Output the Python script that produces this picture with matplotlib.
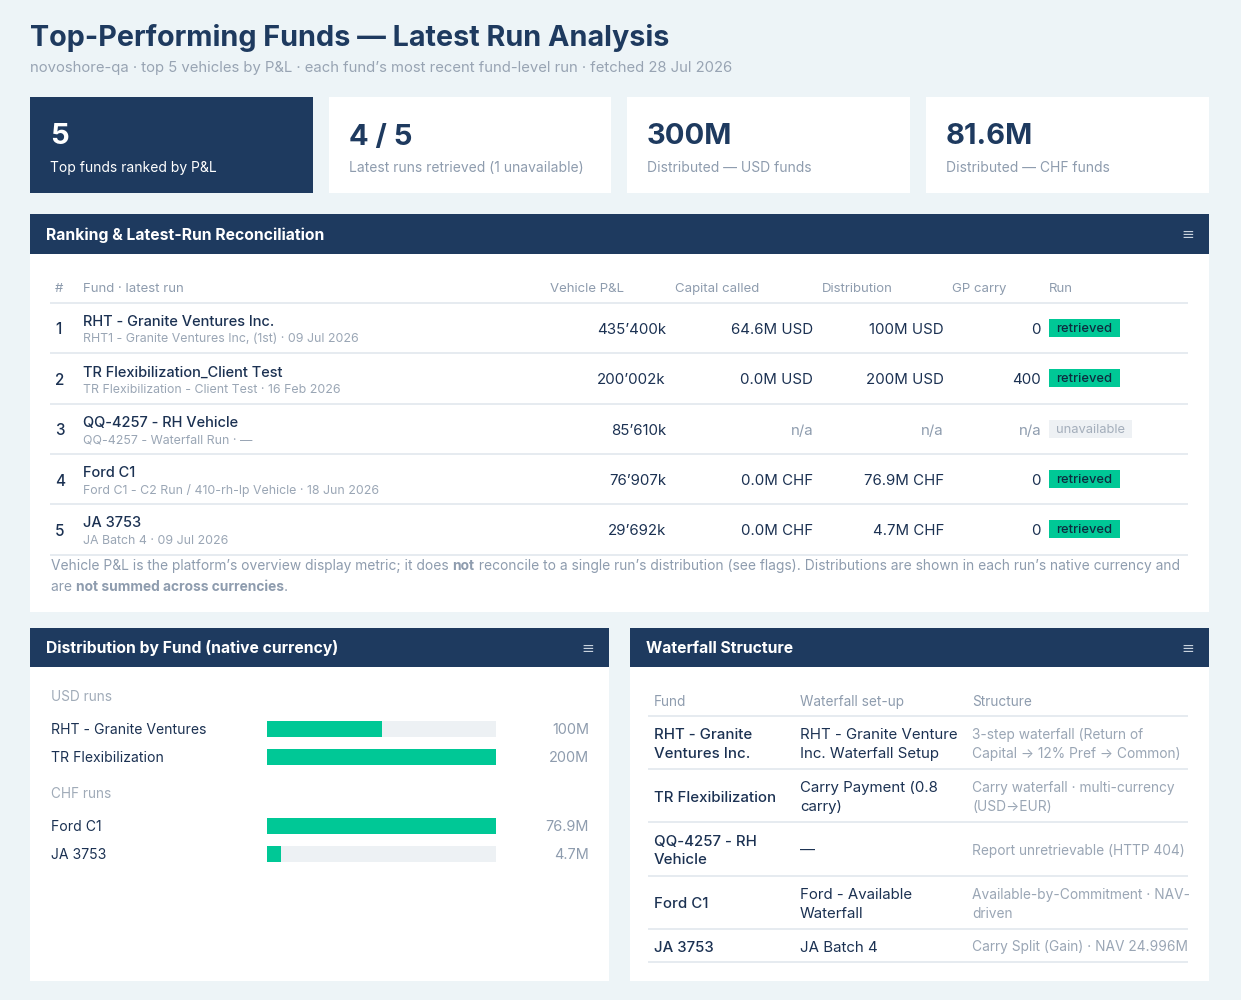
import matplotlib
matplotlib.use('Agg')
import matplotlib.pyplot as plt
from matplotlib.patches import Rectangle
from matplotlib.transforms import blended_transform_factory

plt.rcParams['font.family'] = ['Inter', 'DejaVu Sans']

# ---------------- data ----------------
title = 'Top-Performing Funds — Latest Run Analysis'
subtitle = ('novoshore-qa · top 5 vehicles by P&L · each fund’s most recent '
            'fund-level run · fetched 28 Jul 2026')

kpi_values = ['5', '4 / 5', '300M', '81.6M']
kpi_labels = ['Top funds ranked by P&L', 'Latest runs retrieved (1 unavailable)',
              'Distributed — USD funds', 'Distributed — CHF funds']

table_columns = ['#', 'Fund · latest run', 'Vehicle P&L', 'Capital called',
                 'Distribution', 'GP carry', 'Run']
ranks = ['1', '2', '3', '4', '5']
fund_names = ['RHT - Granite Ventures Inc.', 'TR Flexibilization_Client Test',
              'QQ-4257 - RH Vehicle', 'Ford C1', 'JA 3753']
run_names = ['RHT1 - Granite Ventures Inc, (1st) · 09 Jul 2026',
             'TR Flexibilization - Client Test · 16 Feb 2026',
             'QQ-4257 - Waterfall Run · —',
             'Ford C1 - C2 Run / 410-rh-lp Vehicle · 18 Jun 2026',
             'JA Batch 4 · 09 Jul 2026']
vehicle_pnl = ['435’400k', '200’002k', '85’610k', '76’907k', '29’692k']
capital_called = ['64.6M USD', '0.0M USD', 'n/a', '0.0M CHF', '0.0M CHF']
distribution = ['100M USD', '200M USD', 'n/a', '76.9M CHF', '4.7M CHF']
gp_carry = ['0', '400', 'n/a', '0', '0']
run_status = ['retrieved', 'retrieved', 'unavailable', 'retrieved', 'retrieved']

usd_funds = ['RHT - Granite Ventures', 'TR Flexibilization']
usd_values = [100, 200]
usd_labels = ['100M', '200M']
chf_funds = ['Ford C1', 'JA 3753']
chf_values = [76.9, 4.7]
chf_labels = ['76.9M', '4.7M']

wf_columns = ['Fund', 'Waterfall set-up', 'Structure']
wf_funds = ['RHT - Granite\nVentures Inc.', 'TR Flexibilization',
            'QQ-4257 - RH\nVehicle', 'Ford C1', 'JA 3753']
wf_setup = ['RHT - Granite Venture\nInc. Waterfall Setup', 'Carry Payment (0.8\ncarry)',
            '—', 'Ford - Available\nWaterfall', 'JA Batch 4']
wf_structure = ['3-step waterfall (Return of\nCapital → 12% Pref → Common)',
                'Carry waterfall · multi-currency\n(USD→EUR)',
                'Report unretrievable (HTTP 404)',
                'Available-by-Commitment · NAV-\ndriven',
                'Carry Split (Gain) · NAV 24.996M']

# ---------------- style ----------------
BG = '#EDF4F7'
NAVY = '#1E3A5F'
DARK = '#1B3152'
GREY = '#8E9CAE'
GREEN = '#00C896'
TRACK = '#EDF1F4'
LINE = '#E2E8EE'
WHITE = '#FFFFFF'
DY = 2  # vertical text offset

W, H = 1241, 1000
fig = plt.figure(figsize=(W / 100, H / 100), dpi=100)
fig.patch.set_facecolor(BG)
bg = fig.add_axes([0, 0, 1, 1])
bg.set_xlim(0, W)
bg.set_ylim(H, 0)
bg.axis('off')
renderer = fig.canvas.get_renderer()


def rect(x0, y0, x1, y1, color, z=1):
    bg.add_patch(Rectangle((x0, y0), x1 - x0, y1 - y0, facecolor=color,
                           edgecolor='none', zorder=z))


def txt(x, y, s, size, color=DARK, weight='normal', ha='left', va='center', **kw):
    return bg.text(x, y + DY, s, fontsize=size, color=color, fontweight=weight,
                   ha=ha, va=va, zorder=5, **kw)


def width_of(s, size, weight):
    t1 = bg.text(0, 0, '|' + s + '|', fontsize=size, fontweight=weight)
    t2 = bg.text(0, 0, '||', fontsize=size, fontweight=weight)
    w = t1.get_window_extent(renderer).width - t2.get_window_extent(renderer).width
    t1.remove()
    t2.remove()
    return w


def rich(x, y, parts, size, color):
    for s, weight in parts:
        txt(x, y, s, size, color, weight)
        x += width_of(s, size, weight)


def hline(x0, x1, y, color=LINE, lw=1.2):
    bg.plot([x0, x1], [y, y], color=color, lw=lw, zorder=3, solid_capstyle='butt')


def px_axes(x0, y0, x1, y1):
    return fig.add_axes([x0 / W, 1 - y1 / H, (x1 - x0) / W, (y1 - y0) / H])


# ---------------- title ----------------
txt(30, 36, title, 20.7, NAVY, 'bold')
txt(30, 66, subtitle, 10.7, '#98A4B3')

# ---------------- KPI cards ----------------
card_x = [(30, 313), (329, 611), (627, 910), (926, 1209)]
for i, ((x0, x1), v, lab) in enumerate(zip(card_x, kpi_values, kpi_labels)):
    dark = i == 0
    rect(x0, 97, x1, 193, NAVY if dark else WHITE)
    txt(x0 + 20, 135, v, 21, WHITE if dark else NAVY, 'bold')
    txt(x0 + 20, 166, lab, 10, WHITE if dark else GREY)

# ---------------- panels ----------------
def panel(x0, y0, x1, y1, head, title_text):
    rect(x0, y0, x1, y1, WHITE)
    rect(x0, y0, x1, y0 + head, NAVY, z=2)
    txt(x0 + 16, y0 + head / 2 - 1, title_text, 11.3, WHITE, 'bold')
    txt(x1 - 21, y0 + head / 2 - 1, '≡', 11, '#C9D3DE', ha='center')


panel(30, 214, 1209, 612, 40, 'Ranking & Latest-Run Reconciliation')
panel(30, 628, 609, 981, 39, 'Distribution by Fund (native currency)')
panel(630, 628, 1209, 981, 39, 'Waterfall Structure')

# ---------------- ranking table ----------------
col_x = [55, 83, 550, 675, 822, 952, 1049]
for x, c in zip(col_x, table_columns):
    txt(x, 287, c, 9.5, GREY)
hline(50, 1188, 303)
row_y = [328, 378.3, 428.6, 479, 529.3]
for i, y in enumerate(row_y):
    txt(55, y, ranks[i], 11, DARK, 'medium')
    txt(83, y - 8, fund_names[i], 10.5, DARK, 'medium')
    txt(83, y + 9.5, run_names[i], 8.9, '#9AA6B5')
    for xr, val in zip([666, 813, 944, 1041],
                       [vehicle_pnl[i], capital_called[i], distribution[i], gp_carry[i]]):
        txt(xr, y, val, 10.8, GREY if val == 'n/a' else DARK, ha='right')
    if run_status[i] == 'retrieved':
        rect(1049, y - 9, 1120, y + 9, GREEN, z=3)
        txt(1084.5, y - 1, run_status[i], 9.3, '#0E2B3F', 'medium', ha='center')
    else:
        rect(1049, y - 9, 1132, y + 9, '#EEF1F4', z=3)
        txt(1090.5, y - 1, run_status[i], 9.3, '#A4AEBB', ha='center')
    hline(50, 1188, y + 25.2)

rich(51, 564, [('Vehicle P&L is the platform’s overview display metric; it does ', 'normal'),
               ('not', 'bold'),
               (' reconcile to a single run’s distribution (see flags). Distributions are '
                'shown in each run’s native currency and', 'normal')], 9.93, GREY)
rich(51, 585, [('are ', 'normal'), ('not summed across currencies', 'bold'),
               ('.', 'normal')], 9.93, GREY)

# ---------------- distribution bars ----------------
txt(51, 695, 'USD runs', 9.8, '#A0ABB8')
txt(51, 792, 'CHF runs', 9.8, '#A0ABB8')


def bar_group(y0, y1, names, values, labels):
    ax = px_axes(267, y0, 496, y1)
    ax.set_facecolor('none')
    pos = list(range(len(values)))
    vmax = max(values)
    ax.barh(pos, [vmax] * len(values), height=0.58, color=TRACK, zorder=1)
    ax.barh(pos, values, height=0.58, color=GREEN, zorder=2)
    ax.set_xlim(0, vmax)
    ax.set_ylim(len(values) - 0.5, -0.5)
    ax.axis('off')
    tr = blended_transform_factory(ax.transAxes, ax.transData)
    for p, n, l in zip(pos, names, labels):
        ax.text(-(267 - 51) / 229, p + 0.03, n, transform=tr, fontsize=10.1, color=DARK,
                ha='left', va='center')
        ax.text((589 - 267) / 229, p + 0.03, l, transform=tr, fontsize=10.4, color=GREY,
                ha='right', va='center')


bar_group(715, 771, usd_funds, usd_values, usd_labels)
bar_group(812, 868, chf_funds, chf_values, chf_labels)

# ---------------- waterfall table ----------------
wf_x = [654, 800, 972]
for x, c in zip(wf_x, wf_columns):
    txt(x, 700, c, 9.8, GREY)
bounds = [716, 769, 822, 876, 929, 962]
hline(648, 1188, bounds[0])
for i in range(5):
    yc = (bounds[i] + bounds[i + 1]) / 2
    txt(654, yc, wf_funds[i], 10.8, DARK, 'medium', linespacing=1.38)
    txt(800, yc, wf_setup[i], 10.8, DARK, linespacing=1.38)
    txt(972, yc, wf_structure[i], 9.9, '#9AA6B5', linespacing=1.45)
    hline(648, 1188, bounds[i + 1])

fig.savefig('out.png', dpi=100, facecolor=BG)
